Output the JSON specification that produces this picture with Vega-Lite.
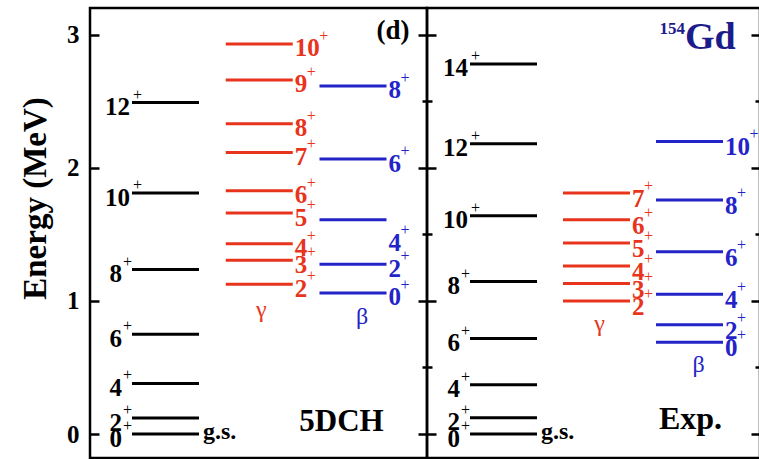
{
  "$schema": "https://vega.github.io/schema/vega-lite/v6.json",
  "background": "white",
  "padding": {"left": 17, "top": 6, "right": 0, "bottom": 0},
  "spacing": 0,
  "bounds": "flush",
  "config": {
    "view": {"stroke": "black", "strokeWidth": 2.5},
    "text": {"font": "Liberation Serif", "fontWeight": "bold"},
    "tick": {"opacity": 1},
    "axis": {"minExtent": 0}
  },
  "datasets": {
    "levels": [
      {"p": "5DCH", "b": "gs", "J": "0", "E": 0},
      {"p": "5DCH", "b": "gs", "J": "2", "E": 0.12},
      {"p": "5DCH", "b": "gs", "J": "4", "E": 0.38},
      {"p": "5DCH", "b": "gs", "J": "6", "E": 0.75},
      {"p": "5DCH", "b": "gs", "J": "8", "E": 1.235},
      {"p": "5DCH", "b": "gs", "J": "10", "E": 1.81},
      {"p": "5DCH", "b": "gs", "J": "12", "E": 2.49},
      {"p": "5DCH", "b": "γ", "J": "2", "E": 1.125},
      {"p": "5DCH", "b": "γ", "J": "3", "E": 1.306},
      {"p": "5DCH", "b": "γ", "J": "4", "E": 1.43},
      {"p": "5DCH", "b": "γ", "J": "5", "E": 1.66},
      {"p": "5DCH", "b": "γ", "J": "6", "E": 1.827},
      {"p": "5DCH", "b": "γ", "J": "7", "E": 2.115},
      {"p": "5DCH", "b": "γ", "J": "8", "E": 2.33},
      {"p": "5DCH", "b": "γ", "J": "9", "E": 2.66},
      {"p": "5DCH", "b": "γ", "J": "10", "E": 2.93},
      {"p": "5DCH", "b": "β", "J": "0", "E": 1.06},
      {"p": "5DCH", "b": "β", "J": "2", "E": 1.275},
      {"p": "5DCH", "b": "β", "J": "4", "E": 1.61, "LE": 1.47},
      {"p": "5DCH", "b": "β", "J": "6", "E": 2.065},
      {"p": "5DCH", "b": "β", "J": "8", "E": 2.615},
      {"p": "Exp", "b": "gs", "J": "0", "E": 0},
      {"p": "Exp", "b": "gs", "J": "2", "E": 0.123},
      {"p": "Exp", "b": "gs", "J": "4", "E": 0.371},
      {"p": "Exp", "b": "gs", "J": "6", "E": 0.717},
      {"p": "Exp", "b": "gs", "J": "8", "E": 1.145},
      {"p": "Exp", "b": "gs", "J": "10", "E": 1.64},
      {"p": "Exp", "b": "gs", "J": "12", "E": 2.18},
      {"p": "Exp", "b": "gs", "J": "14", "E": 2.78},
      {"p": "Exp", "b": "γ", "J": "2", "E": 1.0},
      {"p": "Exp", "b": "γ", "J": "3", "E": 1.13},
      {"p": "Exp", "b": "γ", "J": "4", "E": 1.263},
      {"p": "Exp", "b": "γ", "J": "5", "E": 1.434},
      {"p": "Exp", "b": "γ", "J": "6", "E": 1.61},
      {"p": "Exp", "b": "γ", "J": "7", "E": 1.81},
      {"p": "Exp", "b": "β", "J": "0", "E": 0.69},
      {"p": "Exp", "b": "β", "J": "2", "E": 0.82},
      {"p": "Exp", "b": "β", "J": "4", "E": 1.05},
      {"p": "Exp", "b": "β", "J": "6", "E": 1.37},
      {"p": "Exp", "b": "β", "J": "8", "E": 1.757},
      {"p": "Exp", "b": "β", "J": "10", "E": 2.198}
    ]
  },
  "hconcat": [
    {
      "width": 337,
      "height": 450,
      "data": {"name": "levels"},
      "transform": [
        {"filter": "datum.p === '5DCH'"},
        {"calculate": "isValid(datum.LE) ? datum.LE : datum.E", "as": "Y"}
      ],
      "encoding": {
        "x": {"field": "b", "type": "nominal", "scale": {"type": "point", "padding": 0, "domain": ["gs", "γ", "β"], "range": [75.5, 263]}, "axis": null}
      },
      "resolve": {"axis": {"y": "independent"}},
      "layer": [
        {
          "mark": {"type": "tick", "orient": "horizontal", "size": 67, "thickness": 3, "opacity": 1},
          "encoding": {
            "y": {"field": "E", "type": "quantitative", "scale": {"domain": [-0.18, 3.2], "nice": false, "zero": false},
              "axis": {"orient": "left", "values": [0, 0.5, 1, 1.5, 2, 2.5, 3], "format": "d", "domain": false, "grid": false,
                "tickColor": "black", "tickWidth": 2.5,
                "tickSize": {"condition": {"test": "datum.value % 1 === 0", "value": -9}, "value": -5},
                "labelExpr": "datum.value % 1 === 0 ? datum.label : ''",
                "labelFont": "Liberation Serif", "labelFontWeight": "bold", "labelFontSize": 25, "labelColor": "black", "labelPadding": 20,
                "title": "Energy (MeV)", "titleFont": "Liberation Serif", "titleFontWeight": "bold", "titleFontSize": 33, "titleColor": "black",
                "titleBaseline": "alphabetic", "titleX": -45, "titleY": 190, "titleAngle": -90, "titleAlign": "center", "minExtent": 0}},
            "color": {"field": "b", "type": "nominal", "scale": {"domain": ["gs", "γ", "β"], "range": ["#000000", "#e8341c", "#2323c8"]}, "legend": null}
          }
        },
        {
          "transform": [{"filter": "datum.b === 'gs' && length(datum.J) === 1"}],
          "mark": {"type": "text", "align": "right", "baseline": "alphabetic", "dx": -43.5, "dy": 12.5, "fontSize": 25},
          "encoding": {"y": {"field": "Y", "type": "quantitative", "axis": null}, "text": {"field": "J"}, "color": {"field": "b", "type": "nominal", "legend": null}}
        },
        {
          "transform": [{"filter": "datum.b === 'gs' && length(datum.J) === 1"}],
          "mark": {"type": "text", "align": "left", "baseline": "alphabetic", "dx": -42.5, "dy": -3, "fontSize": 16, "fontWeight": "normal", "text": "+"},
          "encoding": {"y": {"field": "Y", "type": "quantitative", "axis": null}, "color": {"field": "b", "type": "nominal", "legend": null}}
        },
        {
          "transform": [{"filter": "datum.b === 'gs' && length(datum.J) === 2"}],
          "mark": {"type": "text", "align": "right", "baseline": "alphabetic", "dx": -35.5, "dy": 12.5, "fontSize": 25},
          "encoding": {"y": {"field": "Y", "type": "quantitative", "axis": null}, "text": {"field": "J"}, "color": {"field": "b", "type": "nominal", "legend": null}}
        },
        {
          "transform": [{"filter": "datum.b === 'gs' && length(datum.J) === 2"}],
          "mark": {"type": "text", "align": "left", "baseline": "alphabetic", "dx": -32.5, "dy": -3, "fontSize": 16, "fontWeight": "normal", "text": "+"},
          "encoding": {"y": {"field": "Y", "type": "quantitative", "axis": null}, "color": {"field": "b", "type": "nominal", "legend": null}}
        },
        {
          "transform": [{"filter": "datum.b !== 'gs'"}],
          "mark": {"type": "text", "align": "left", "baseline": "alphabetic", "dx": 35.5, "dy": 12.5, "fontSize": 25},
          "encoding": {
            "y": {"field": "Y", "type": "quantitative",
              "axis": {"orient": "right", "values": [0, 0.5, 1, 1.5, 2, 2.5, 3], "domain": false, "grid": false, "labels": false, "title": null,
                "tickColor": "black", "tickWidth": 2.5,
                "tickSize": {"condition": {"test": "datum.value % 1 === 0", "value": -9}, "value": -5}, "minExtent": 0}},
            "text": {"field": "J"}, "color": {"field": "b", "type": "nominal", "legend": null}}
        },
        {
          "transform": [{"filter": "datum.b !== 'gs' && length(datum.J) === 1"}],
          "mark": {"type": "text", "align": "left", "baseline": "alphabetic", "dx": 47.5, "dy": -3, "fontSize": 16, "fontWeight": "normal", "text": "+"},
          "encoding": {"y": {"field": "Y", "type": "quantitative", "axis": null}, "color": {"field": "b", "type": "nominal", "legend": null}}
        },
        {
          "transform": [{"filter": "datum.b !== 'gs' && length(datum.J) === 2"}],
          "mark": {"type": "text", "align": "left", "baseline": "alphabetic", "dx": 60, "dy": -3, "fontSize": 16, "fontWeight": "normal", "text": "+"},
          "encoding": {"y": {"field": "Y", "type": "quantitative", "axis": null}, "color": {"field": "b", "type": "nominal", "legend": null}}
        },
        {
          "transform": [{"filter": "datum.b === 'gs' && datum.J === '0'"}],
          "mark": {"type": "text", "align": "left", "baseline": "alphabetic", "dx": 37.5, "dy": 5, "fontSize": 24, "text": "g.s.", "color": "black"},
          "encoding": {"y": {"field": "E", "type": "quantitative", "axis": null}}
        },
        {
          "transform": [{"filter": "datum.b === 'γ'"}, {"aggregate": [{"op": "min", "field": "E", "as": "minE"}], "groupby": ["b"]}],
          "mark": {"type": "text", "align": "center", "baseline": "middle", "dx": 2, "dy": 26, "fontSize": 24, "fontWeight": "normal"},
          "encoding": {"y": {"field": "minE", "type": "quantitative", "axis": null}, "text": {"field": "b"}, "color": {"field": "b", "type": "nominal", "legend": null}}
        },
        {
          "transform": [{"filter": "datum.b === 'β'"}, {"aggregate": [{"op": "min", "field": "E", "as": "minE"}], "groupby": ["b"]}],
          "mark": {"type": "text", "align": "center", "baseline": "middle", "dx": 9, "dy": 24, "fontSize": 24, "fontWeight": "normal"},
          "encoding": {"y": {"field": "minE", "type": "quantitative", "axis": null}, "text": {"field": "b"}, "color": {"field": "b", "type": "nominal", "legend": null}}
        },
        {
          "data": {"values": [{"p": "5DCH", "t": "5DCH"}]},
          "mark": {"type": "text", "align": "center", "baseline": "alphabetic", "dx": -11.5, "dy": -3, "fontSize": 31, "color": "black"},
          "encoding": {"x": {"datum": "β"}, "y": {"datum": 0, "axis": null}, "text": {"field": "t"}}
        },
        {
          "data": {"values": [{"p": "5DCH", "t": "(d)"}]},
          "mark": {"type": "text", "align": "center", "baseline": "alphabetic", "dx": 40, "dy": 4, "fontSize": 27, "color": "black"},
          "encoding": {"x": {"datum": "β"}, "y": {"datum": 3, "axis": null}, "text": {"field": "t"}}
        }
      ]
    },
    {
      "width": 333,
      "height": 450,
      "data": {"name": "levels"},
      "transform": [
        {"filter": "datum.p === 'Exp'"},
        {"calculate": "isValid(datum.LE) ? datum.LE : datum.E", "as": "Y"}
      ],
      "encoding": {
        "x": {"field": "b", "type": "nominal", "scale": {"type": "point", "padding": 0, "domain": ["gs", "γ", "β"], "range": [76.5, 262.5]}, "axis": null}
      },
      "resolve": {"axis": {"y": "independent"}},
      "layer": [
        {
          "mark": {"type": "tick", "orient": "horizontal", "size": 67, "thickness": 3, "opacity": 1},
          "encoding": {
            "y": {"field": "E", "type": "quantitative", "scale": {"domain": [-0.18, 3.2], "nice": false, "zero": false},
              "axis": {"orient": "left", "values": [0, 0.5, 1, 1.5, 2, 2.5, 3], "domain": false, "grid": false, "labels": false, "title": null,
                "tickColor": "black", "tickWidth": 2.5,
                "tickSize": {"condition": {"test": "datum.value % 1 === 0", "value": -9}, "value": -5}, "minExtent": 0}},
            "color": {"field": "b", "type": "nominal", "scale": {"domain": ["gs", "γ", "β"], "range": ["#000000", "#e8341c", "#2323c8"]}, "legend": null}
          }
        },
        {
          "transform": [{"filter": "datum.b === 'gs' && length(datum.J) === 1"}],
          "mark": {"type": "text", "align": "right", "baseline": "alphabetic", "dx": -43.5, "dy": 12.5, "fontSize": 25},
          "encoding": {"y": {"field": "Y", "type": "quantitative", "axis": null}, "text": {"field": "J"}, "color": {"field": "b", "type": "nominal", "legend": null}}
        },
        {
          "transform": [{"filter": "datum.b === 'gs' && length(datum.J) === 1"}],
          "mark": {"type": "text", "align": "left", "baseline": "alphabetic", "dx": -42.5, "dy": -3, "fontSize": 16, "fontWeight": "normal", "text": "+"},
          "encoding": {"y": {"field": "Y", "type": "quantitative", "axis": null}, "color": {"field": "b", "type": "nominal", "legend": null}}
        },
        {
          "transform": [{"filter": "datum.b === 'gs' && length(datum.J) === 2"}],
          "mark": {"type": "text", "align": "right", "baseline": "alphabetic", "dx": -35.5, "dy": 12.5, "fontSize": 25},
          "encoding": {"y": {"field": "Y", "type": "quantitative", "axis": null}, "text": {"field": "J"}, "color": {"field": "b", "type": "nominal", "legend": null}}
        },
        {
          "transform": [{"filter": "datum.b === 'gs' && length(datum.J) === 2"}],
          "mark": {"type": "text", "align": "left", "baseline": "alphabetic", "dx": -32.5, "dy": -3, "fontSize": 16, "fontWeight": "normal", "text": "+"},
          "encoding": {"y": {"field": "Y", "type": "quantitative", "axis": null}, "color": {"field": "b", "type": "nominal", "legend": null}}
        },
        {
          "transform": [{"filter": "datum.b !== 'gs'"}],
          "mark": {"type": "text", "align": "left", "baseline": "alphabetic", "dx": 35.5, "dy": 14, "fontSize": 25},
          "encoding": {
            "y": {"field": "Y", "type": "quantitative",
              "axis": {"orient": "right", "values": [0, 0.5, 1, 1.5, 2, 2.5, 3], "domain": false, "grid": false, "labels": false, "title": null,
                "tickColor": "black", "tickWidth": 2.5,
                "tickSize": {"condition": {"test": "datum.value % 1 === 0", "value": -9}, "value": -5}, "minExtent": 0}},
            "text": {"field": "J"}, "color": {"field": "b", "type": "nominal", "legend": null}}
        },
        {
          "transform": [{"filter": "datum.b !== 'gs' && length(datum.J) === 1"}],
          "mark": {"type": "text", "align": "left", "baseline": "alphabetic", "dx": 47.5, "dy": -2, "fontSize": 16, "fontWeight": "normal", "text": "+"},
          "encoding": {"y": {"field": "Y", "type": "quantitative", "axis": null}, "color": {"field": "b", "type": "nominal", "legend": null}}
        },
        {
          "transform": [{"filter": "datum.b !== 'gs' && length(datum.J) === 2"}],
          "mark": {"type": "text", "align": "left", "baseline": "alphabetic", "dx": 60, "dy": -2, "fontSize": 16, "fontWeight": "normal", "text": "+"},
          "encoding": {"y": {"field": "Y", "type": "quantitative", "axis": null}, "color": {"field": "b", "type": "nominal", "legend": null}}
        },
        {
          "transform": [{"filter": "datum.b === 'gs' && datum.J === '0'"}],
          "mark": {"type": "text", "align": "left", "baseline": "alphabetic", "dx": 37.5, "dy": 5, "fontSize": 24, "text": "g.s.", "color": "black"},
          "encoding": {"y": {"field": "E", "type": "quantitative", "axis": null}}
        },
        {
          "transform": [{"filter": "datum.b === 'γ'"}, {"aggregate": [{"op": "min", "field": "E", "as": "minE"}], "groupby": ["b"]}],
          "mark": {"type": "text", "align": "center", "baseline": "middle", "dx": 3, "dy": 23, "fontSize": 24, "fontWeight": "normal"},
          "encoding": {"y": {"field": "minE", "type": "quantitative", "axis": null}, "text": {"field": "b"}, "color": {"field": "b", "type": "nominal", "legend": null}}
        },
        {
          "transform": [{"filter": "datum.b === 'β'"}, {"aggregate": [{"op": "min", "field": "E", "as": "minE"}], "groupby": ["b"]}],
          "mark": {"type": "text", "align": "center", "baseline": "middle", "dx": 9, "dy": 23, "fontSize": 24, "fontWeight": "normal"},
          "encoding": {"y": {"field": "minE", "type": "quantitative", "axis": null}, "text": {"field": "b"}, "color": {"field": "b", "type": "nominal", "legend": null}}
        },
        {
          "data": {"values": [{"p": "Exp", "t": "Exp."}]},
          "mark": {"type": "text", "align": "center", "baseline": "alphabetic", "dx": 1, "dy": -5, "fontSize": 32, "color": "black"},
          "encoding": {"x": {"datum": "β"}, "y": {"datum": 0, "axis": null}, "text": {"field": "t"}}
        },
        {
          "data": {"values": [{"p": "Exp", "t": "Gd"}]},
          "mark": {"type": "text", "align": "left", "baseline": "alphabetic", "dx": -4.5, "dy": 14, "fontSize": 38, "color": "#1c1c8a"},
          "encoding": {"x": {"datum": "β"}, "y": {"datum": 3, "axis": null}, "text": {"field": "t"}}
        },
        {
          "data": {"values": [{"p": "Exp", "t": "154"}]},
          "mark": {"type": "text", "align": "right", "baseline": "alphabetic", "dx": -4.5, "dy": -1, "fontSize": 17, "color": "#1c1c8a"},
          "encoding": {"x": {"datum": "β"}, "y": {"datum": 3, "axis": null}, "text": {"field": "t"}}
        }
      ]
    }
  ]
}
